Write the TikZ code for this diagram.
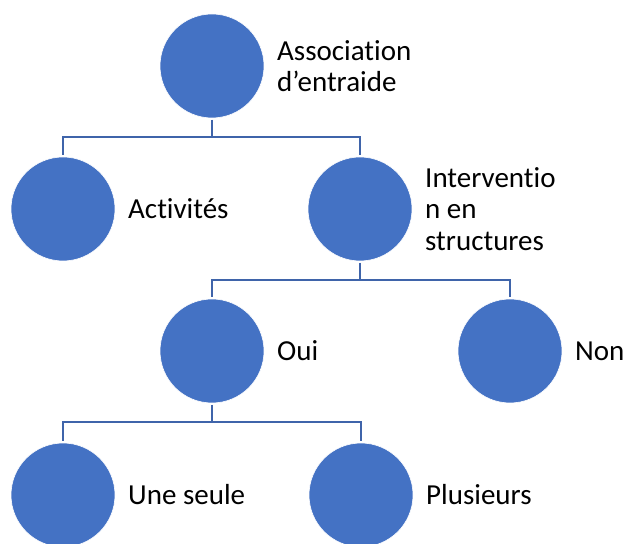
\documentclass[tikz,border=0pt]{standalone}
\usepackage{fontspec}
\setmainfont{Carlito}[Ligatures={NoCommon}]
\usepackage{tikz}
\usetikzlibrary{positioning}
\usetikzlibrary{calc}
\definecolor{bleuRond}{HTML}{4472C4}
\definecolor{bleuLien}{HTML}{3F64AA}

\begin{document}
\begin{tikzpicture}[
  x=1pt, y=1pt,
  every node/.style={font=\fontsize{29}{31.5}\selectfont},
  rond/.style={circle, fill=bleuRond, draw=white, line width=0.6pt, minimum size=104pt, inner sep=0pt, outer sep=2pt},
  etiq/.style={align=left, anchor=west, inner sep=0pt},
  lien/.style={draw=bleuLien, line width=2.6pt}
]
\useasboundingbox (0,0) rectangle (628,543);

% ---------- Circles ----------
\node[rond] (asso) at (212,477) {};
\node[rond] (activ) at ($(asso)+(-149,-143)$) {};
\node[rond] (interv) at ($(asso)+(148,-143)$) {};
\node[rond] (oui) at ($(interv)+(-148,-142)$) {};
\node[rond] (non) at ($(interv)+(150,-142)$) {};
\node[rond] (une) at ($(oui)+(-149,-144)$) {};
\node[rond] (plus) at ($(oui)+(149,-144)$) {};

% ---------- Labels ----------
\node[etiq] (tAsso) [right=11pt of asso] {Association\\d’entraide};
\node[etiq] (tActiv) [right=11pt of activ] {Activités};
\node[etiq] (tInterv) [right=11pt of interv] {Interventio\\n en\\structures};
\node[etiq] (tOui) [right=11pt of oui] {Oui};
\node[etiq] (tNon) [right=11pt of non] {Non};
\node[etiq] (tUne) [right=11pt of une] {Une seule};
\node[etiq] (tPlus) [right=11pt of plus] {Plusieurs};

% ---------- Connectors ----------
\draw[lien] (asso.south) -- ++(0,-17) -| (activ.north);
\draw[lien] (asso.south) -- ++(0,-17) -| (interv.north);
\draw[lien] (interv.south) -- ++(0,-17) -| (oui.north);
\draw[lien] (interv.south) -- ++(0,-17) -| (non.north);
\draw[lien] (oui.south) -- ++(0,-17) -| (une.north);
\draw[lien] (oui.south) -- ++(0,-17) -| (plus.north);

\end{tikzpicture}
\end{document}
